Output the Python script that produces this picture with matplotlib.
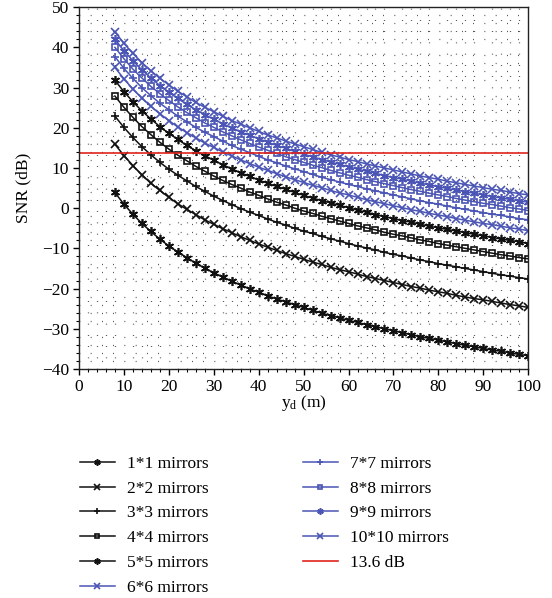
import matplotlib
matplotlib.use("Agg")
import matplotlib.pyplot as plt
from matplotlib.ticker import MultipleLocator

plt.rcParams['font.family'] = ['Liberation Serif', 'DejaVu Serif']
plt.rcParams['mathtext.fontset'] = 'custom'
plt.rcParams['mathtext.rm'] = 'Liberation Serif'

# distance y_d (m)
yd = list(range(8, 101, 2))

snr_1x1 = [3.9, 1.0, -1.5, -3.8, -5.8, -7.7, -9.4, -10.9, -12.3, -13.7, -14.9, -16.1, -17.1, -18.2,
           -19.1, -20.1, -20.9, -21.8, -22.6, -23.3, -24.0, -24.7, -25.4, -26.1, -26.7, -27.3, -27.9,
           -28.4, -29.0, -29.5, -30.0, -30.5, -31.0, -31.5, -32.0, -32.4, -32.8, -33.3, -33.7, -34.1,
           -34.5, -34.9, -35.3, -35.6, -36.0, -36.4, -36.7]
snr_2x2 = [15.9, 13.1, 10.6, 8.3, 6.2, 4.4, 2.7, 1.1, -0.3, -1.6, -2.9, -4.0, -5.1, -6.1, -7.1, -8.0,
           -8.9, -9.7, -10.5, -11.3, -12.0, -12.7, -13.4, -14.0, -14.7, -15.3, -15.8, -16.4, -17.0,
           -17.5, -18.0, -18.5, -19.0, -19.5, -19.9, -20.4, -20.8, -21.2, -21.7, -22.1, -22.5, -22.8,
           -23.2, -23.6, -24.0, -24.3, -24.7]
snr_3x3 = [22.9, 20.1, 17.6, 15.3, 13.3, 11.4, 9.7, 8.2, 6.8, 5.4, 4.2, 3.0, 1.9, 0.9, -0.1, -1.0,
           -1.8, -2.7, -3.5, -4.2, -5.0, -5.7, -6.3, -7.0, -7.6, -8.2, -8.8, -9.4, -9.9, -10.4, -11.0,
           -11.5, -11.9, -12.4, -12.9, -13.3, -13.8, -14.2, -14.6, -15.0, -15.4, -15.8, -16.2, -16.6,
           -16.9, -17.3, -17.6]
snr_4x4 = [27.9, 25.1, 22.6, 20.3, 18.3, 16.4, 14.7, 13.2, 11.8, 10.4, 9.2, 8.0, 6.9, 5.9, 5.0, 4.0,
           3.2, 2.3, 1.5, 0.8, 0.0, -0.7, -1.3, -2.0, -2.6, -3.2, -3.8, -4.4, -4.9, -5.4, -6.0, -6.5,
           -6.9, -7.4, -7.9, -8.3, -8.8, -9.2, -9.6, -10.0, -10.4, -10.8, -11.2, -11.6, -11.9, -12.3,
           -12.6]
snr_5x5 = [31.8, 29.0, 26.5, 24.2, 22.2, 20.3, 18.6, 17.1, 15.6, 14.3, 13.1, 11.9, 10.8, 9.8, 8.8,
           7.9, 7.0, 6.2, 5.4, 4.7, 3.9, 3.2, 2.5, 1.9, 1.3, 0.7, 0.1, -0.5, -1.0, -1.6, -2.1, -2.6,
           -3.1, -3.5, -4.0, -4.5, -4.9, -5.3, -5.7, -6.1, -6.5, -6.9, -7.3, -7.7, -8.0, -8.4, -8.8]
snr_6x6 = [35.0, 32.2, 29.6, 27.4, 25.3, 23.5, 21.8, 20.2, 18.8, 17.5, 16.2, 15.1, 14.0, 13.0, 12.0,
           11.1, 10.2, 9.4, 8.6, 7.8, 7.1, 6.4, 5.7, 5.1, 4.4, 3.8, 3.3, 2.7, 2.1, 1.6, 1.1, 0.6, 0.1,
           -0.4, -0.8, -1.3, -1.7, -2.1, -2.6, -3.0, -3.4, -3.8, -4.1, -4.5, -4.9, -5.2, -5.6]
snr_7x7 = [37.7, 34.8, 32.3, 30.0, 28.0, 26.1, 24.5, 22.9, 21.5, 20.1, 18.9, 17.8, 16.7, 15.6, 14.7,
           13.8, 12.9, 12.0, 11.3, 10.5, 9.8, 9.1, 8.4, 7.7, 7.1, 6.5, 5.9, 5.4, 4.8, 4.3, 3.8, 3.3,
           2.8, 2.3, 1.8, 1.4, 1.0, 0.5, 0.1, -0.3, -0.7, -1.1, -1.5, -1.8, -2.2, -2.6, -2.9]
snr_8x8 = [40.0, 37.2, 34.6, 32.4, 30.3, 28.5, 26.8, 25.2, 23.8, 22.5, 21.2, 20.1, 19.0, 18.0, 17.0,
           16.1, 15.2, 14.4, 13.6, 12.8, 12.1, 11.4, 10.7, 10.1, 9.4, 8.8, 8.2, 7.7, 7.1, 6.6, 6.1,
           5.6, 5.1, 4.6, 4.2, 3.7, 3.3, 2.9, 2.4, 2.0, 1.6, 1.2, 0.9, 0.5, 0.1, -0.2, -0.6]
snr_9x9 = [42.0, 39.2, 36.7, 34.4, 32.4, 30.5, 28.8, 27.3, 25.8, 24.5, 23.3, 22.1, 21.0, 20.0, 19.0,
           18.1, 17.3, 16.4, 15.6, 14.9, 14.1, 13.4, 12.8, 12.1, 11.5, 10.9, 10.3, 9.7, 9.2, 8.7, 8.1,
           7.6, 7.2, 6.7, 6.2, 5.8, 5.3, 4.9, 4.5, 4.1, 3.7, 3.3, 2.9, 2.5, 2.2, 1.8, 1.5]
snr_10x10 = [43.9, 41.0, 38.5, 36.2, 34.2, 32.3, 30.7, 29.1, 27.7, 26.3, 25.1, 24.0, 22.9, 21.8, 20.9,
             20.0, 19.1, 18.2, 17.5, 16.7, 16.0, 15.3, 14.6, 13.9, 13.3, 12.7, 12.1, 11.6, 11.0, 10.5,
             10.0, 9.5, 9.0, 8.5, 8.0, 7.6, 7.2, 6.7, 6.3, 5.9, 5.5, 5.1, 4.7, 4.4, 4.0, 3.6, 3.3]

series = [snr_1x1, snr_2x2, snr_3x3, snr_4x4, snr_5x5,
          snr_6x6, snr_7x7, snr_8x8, snr_9x9, snr_10x10]
labels = ["1*1 mirrors", "2*2 mirrors", "3*3 mirrors", "4*4 mirrors", "5*5 mirrors",
          "6*6 mirrors", "7*7 mirrors", "8*8 mirrors", "9*9 mirrors", "10*10 mirrors"]
threshold = 13.6
threshold_label = "13.6 dB"

ASTER = (6, 2, 0)
markers = [ASTER, 'x', '+', 's', ASTER, 'x', '+', 's', ASTER, 'x']
BLACK = '#111111'
BLUE = '#4a55b5'
colors = [BLACK] * 5 + [BLUE] * 5

fig = plt.figure(figsize=(5.52, 5.98), dpi=100)
ax = fig.add_axes([0.143, 0.383, 0.814, 0.605])

handles = []
for vals, lab, mk, col in zip(series, labels, markers, colors):
    if mk == 's':
        ms = 5
    elif mk == ASTER:
        ms = 6.5
    else:
        ms = 5.5
    h, = ax.plot(yd, vals, color=col, lw=1.1, marker=mk, ms=ms,
                 mfc='none' if mk == 's' else col, mec=col, mew=1.2, label=lab)
    handles.append(h)
hr = ax.axhline(threshold, color='#e0231c', lw=1.2, label=threshold_label)
handles.append(hr)

ax.set_xlim(0, 100)
ax.set_ylim(-40, 50)
ax.xaxis.set_major_locator(MultipleLocator(10))
ax.yaxis.set_major_locator(MultipleLocator(10))
ax.xaxis.set_minor_locator(MultipleLocator(2))
ax.yaxis.set_minor_locator(MultipleLocator(2))
ax.grid(which='minor', color='#222222', linestyle=(0, (0.6, 8.4)), linewidth=0.9)
ax.set_axisbelow(True)
ax.tick_params(which='major', direction='out', length=4, width=1, labelsize=12.5, pad=3)
ax.tick_params(which='minor', direction='out', length=2, width=0.8)
for s in ax.spines.values():
    s.set_linewidth(1.0)
    s.set_color('#222222')

ax.set_xlabel(r"$\mathregular{y_d}$ (m)", fontsize=12.5, labelpad=-1)
ax.set_ylabel("SNR (dB)", fontsize=12.5, labelpad=8)

leg_kw = dict(frameon=False, fontsize=12.5, handlelength=2.0, handletextpad=0.7,
              labelspacing=0.5, borderpad=0, borderaxespad=0, loc='upper left',
              markerscale=0.7)
fig.legend(handles=handles[:6], bbox_to_anchor=(0.145, 0.238), **leg_kw)
fig.legend(handles=handles[6:], bbox_to_anchor=(0.549, 0.238), **leg_kw)

fig.savefig("out.png", dpi=100)
